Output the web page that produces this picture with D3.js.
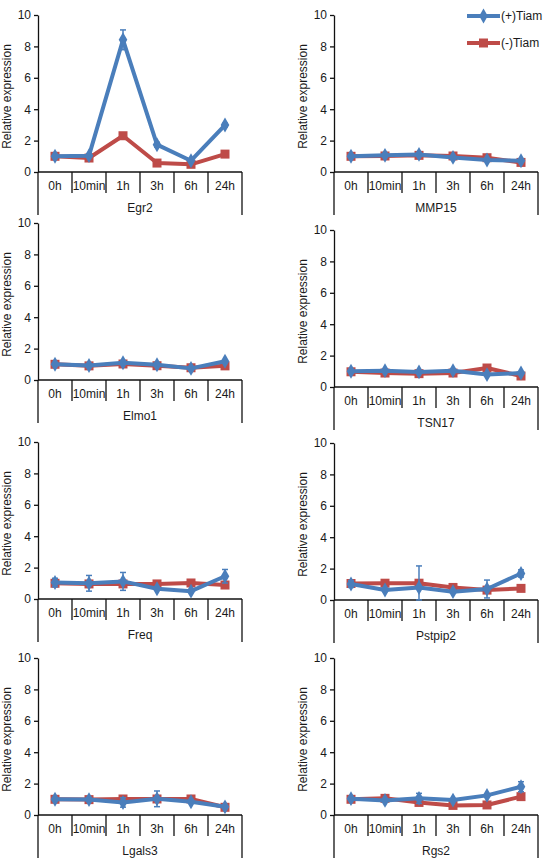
<!DOCTYPE html>
<meta charset="utf-8">
<style>
body { margin: 0; background: #fff; }
svg text { font-family: "Liberation Sans", Arial, sans-serif; font-size: 12px; fill: #1a1a1a; }
.axis path, .axis line, .frame line { stroke: #111; stroke-width: 1.3; }
</style>
<svg width="560" height="860"></svg>
<script src="https://d3js.org/d3.v7.min.js"></script>
<script>
"use strict";

// data
var times = ["0h", "10min", "1h", "3h", "6h", "24h"];
var genes = ["Egr2", "MMP15", "Elmo1", "TSN17", "Freq", "Pstpip2", "Lgals3", "Rgs2"];
var seriesNames = ["(+)Tiam", "(-)Tiam"];

var plusTiam = [
  [1.0, 1.04, 8.42, 1.74, 0.72, 2.99],
  [1.0, 1.06, 1.12, 0.93, 0.76, 0.72],
  [1.0, 0.92, 1.10, 0.97, 0.74, 1.19],
  [1.0, 1.04, 0.96, 1.04, 0.79, 0.89],
  [1.05, 1.0, 1.12, 0.65, 0.50, 1.45],
  [1.02, 0.64, 0.80, 0.53, 0.70, 1.69],
  [1.0, 0.98, 0.80, 1.03, 0.84, 0.52],
  [1.04, 0.93, 1.06, 0.95, 1.25, 1.80]
];
var plusTiamErr = [
  [0.05, 0.10, 0.63, 0.15, 0.05, 0.12],
  [0.05, 0.05, 0.05, 0.05, 0.05, 0.05],
  [0.05, 0.05, 0.08, 0.05, 0.05, 0.08],
  [0.05, 0.05, 0.05, 0.05, 0.05, 0.05],
  [0.27, 0.50, 0.57, 0.05, 0.05, 0.43],
  [0.22, 0.10, 1.37, 0.05, 0.57, 0.23],
  [0.05, 0.05, 0.30, 0.50, 0.10, 0.05],
  [0.10, 0.05, 0.32, 0.05, 0.10, 0.32]
];
var minusTiam = [
  [1.0, 0.89, 2.31, 0.57, 0.49, 1.14],
  [1.0, 1.02, 1.06, 1.02, 0.91, 0.61],
  [1.0, 0.90, 1.02, 0.91, 0.78, 0.90],
  [0.97, 0.89, 0.85, 0.89, 1.21, 0.70],
  [1.0, 0.96, 0.96, 0.96, 1.02, 0.89],
  [1.05, 1.07, 1.07, 0.80, 0.63, 0.74],
  [1.0, 0.98, 1.02, 1.02, 1.02, 0.49],
  [1.0, 1.06, 0.80, 0.61, 0.64, 1.17]
];
var minusTiamErr = [
  [0.05, 0.05, 0.10, 0.05, 0.05, 0.08],
  [0.05, 0.05, 0.05, 0.05, 0.05, 0.05],
  [0.05, 0.05, 0.05, 0.05, 0.05, 0.05],
  [0.05, 0.05, 0.05, 0.05, 0.05, 0.05],
  [0.05, 0.05, 0.05, 0.05, 0.05, 0.05],
  [0.05, 0.05, 0.05, 0.05, 0.05, 0.05],
  [0.05, 0.05, 0.05, 0.05, 0.05, 0.05],
  [0.05, 0.05, 0.05, 0.05, 0.05, 0.05]
];
var yTicks = [0, 2, 4, 6, 8, 10];

// layout
var colX = [38, 334];
var rowTop = [[15, 15], [223, 230], [442, 443], [658, 658]];
var plotW = 204, plotH = 157;
var colors = ["#4a7ebb", "#be4b48"];

var svg = d3.select("svg");

var x = d3.scaleBand().domain(times).range([0, plotW]);
var y = d3.scaleLinear().domain([0, 10]).range([plotH, 0]).clamp(true);

var line = d3.line()
  .x(function(d, i) { return x(times[i]) + x.bandwidth() / 2; })
  .y(function(d) { return y(d); });

var diamond = d3.symbol().type(d3.symbolDiamond).size(64);
var square = d3.symbol().type(d3.symbolSquare).size(81);

genes.forEach(function(gene, gi) {
  var col = gi % 2, row = Math.floor(gi / 2);
  var g = svg.append("g")
    .attr("transform", "translate(" + colX[col] + "," + rowTop[row][col] + ")");

  // y axis
  g.append("g").attr("class", "axis")
    .call(d3.axisLeft(y).tickValues(yTicks).tickSize(4).tickPadding(3).tickSizeOuter(0))
    .call(function(a) { a.selectAll("text").style("font-size", "12px"); });

  // x axis with bracket lines
  var fr = g.append("g").attr("class", "frame");
  fr.append("line").attr("x1", 0).attr("x2", plotW).attr("y1", plotH).attr("y2", plotH);
  fr.selectAll(".div").data(d3.range(times.length + 1)).enter().append("line")
    .attr("x1", function(d) { return d * x.step(); })
    .attr("x2", function(d) { return d * x.step(); })
    .attr("y1", plotH)
    .attr("y2", function(d) { return (d === 0 || d === times.length) ? plotH + 43 : plotH + 21; });

  g.selectAll(".tl").data(times).enter().append("text")
    .attr("x", function(d) { return x(d) + x.bandwidth() / 2; })
    .attr("y", plotH + 18)
    .attr("text-anchor", "middle")
    .text(function(d) { return d; });

  g.append("text")
    .attr("x", plotW / 2).attr("y", plotH + 40)
    .attr("text-anchor", "middle")
    .text(gene);

  g.append("text")
    .attr("transform", "translate(-27," + (plotH / 2 + 3) + ") rotate(-90)")
    .attr("text-anchor", "middle")
    .text("Relative expression");

  // series: red first, blue on top
  var sets = [
    { v: minusTiam[gi], e: minusTiamErr[gi], c: colors[1], sym: square },
    { v: plusTiam[gi], e: plusTiamErr[gi], c: colors[0], sym: diamond }
  ];
  sets.forEach(function(s) {
    var sg = g.append("g");
    var eb = sg.selectAll(".eb").data(s.v).enter().append("g")
      .attr("transform", function(d, i) { return "translate(" + (x(times[i]) + x.bandwidth() / 2) + ",0)"; });
    eb.append("line")
      .attr("y1", function(d, i) { return y(d - s.e[i]); })
      .attr("y2", function(d, i) { return y(d + s.e[i]); })
      .attr("stroke", s.c).attr("stroke-width", 1.5);
    eb.append("line")
      .attr("x1", -3).attr("x2", 3)
      .attr("y1", function(d, i) { return y(d + s.e[i]); })
      .attr("y2", function(d, i) { return y(d + s.e[i]); })
      .attr("stroke", s.c).attr("stroke-width", 1.5);
    eb.append("line")
      .attr("x1", -3).attr("x2", 3)
      .attr("y1", function(d, i) { return y(d - s.e[i]); })
      .attr("y2", function(d, i) { return y(d - s.e[i]); })
      .attr("stroke", s.c).attr("stroke-width", 1.5);

    sg.append("path").datum(s.v)
      .attr("d", line)
      .attr("fill", "none").attr("stroke", s.c)
      .attr("stroke-width", 4).attr("stroke-linejoin", "round");

    sg.selectAll(".pt").data(s.v).enter().append("path")
      .attr("transform", function(d, i) {
        return "translate(" + (x(times[i]) + x.bandwidth() / 2) + "," + y(d) + ")";
      })
      .attr("d", s.sym)
      .attr("fill", s.c);
  });
});

// legend
var lg = svg.append("g").attr("transform", "translate(467,16)");
var legendItems = [
  { name: seriesNames[0], c: colors[0], sym: diamond },
  { name: seriesNames[1], c: colors[1], sym: square }
];
legendItems.forEach(function(it, i) {
  var li = lg.append("g").attr("transform", "translate(0," + (i * 27) + ")");
  li.append("line").attr("x1", 0).attr("x2", 33)
    .attr("stroke", it.c).attr("stroke-width", 4);
  li.append("path").attr("transform", "translate(16.5,0)").attr("d", it.sym).attr("fill", it.c);
  li.append("text").attr("x", 34).attr("y", 4).text(it.name);
});
</script>
